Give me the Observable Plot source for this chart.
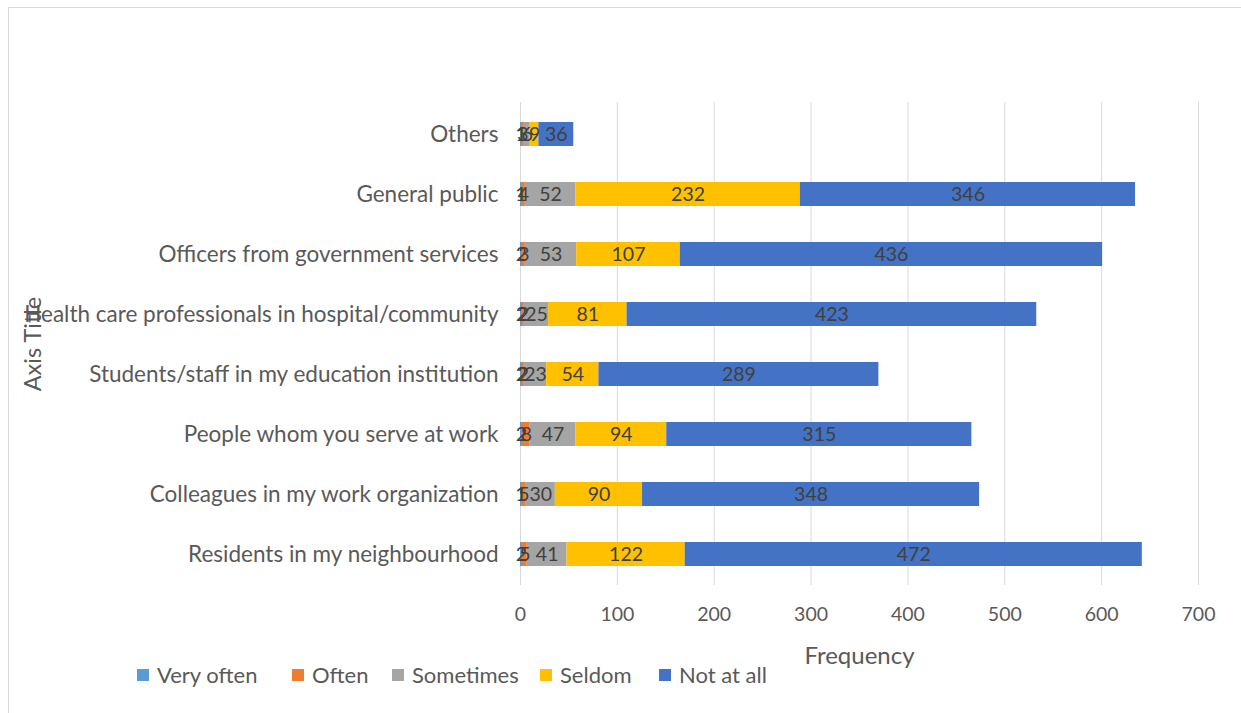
<!DOCTYPE html>
<html>
<head>
<meta charset="utf-8">
<script src="https://cdn.jsdelivr.net/npm/d3@7"></script>
<script src="https://cdn.jsdelivr.net/npm/@observablehq/plot@0.6"></script>
<style>
  html, body { margin: 0; padding: 0; background: #fff; }
  #wrap { position: relative; width: 1241px; height: 713px; overflow: hidden; font-family: Lato, "Open Sans", sans-serif; }
  #frame { position: absolute; left: 8px; top: 7px; width: 1240px; height: 710px; border: 1px solid #d9d9d9; box-sizing: border-box; }
  #chart { position: absolute; left: 0; top: 0; }
  .leg { position: absolute; top: 662px; font-size: 22px; color: #595959; white-space: nowrap; line-height: 26px; }
  .sw { position: absolute; width: 12px; height: 12px; top: 7px; }
  .ytitle { position: absolute; left: 32px; top: 344px; transform: translate(-50%, -50%) rotate(-90deg); font-size: 23.5px; color: #595959; white-space: nowrap; }
</style>
</head>
<body>
<div id="wrap">
  <div id="frame"></div>
  <div id="chart"></div>
  <div id="legend"></div>
</div>
<script>
const categories = [
  "Others",
  "General public",
  "Officers from government services",
  "Health care professionals in hospital/community",
  "Students/staff in my education institution",
  "People whom you serve at work",
  "Colleagues in my work organization",
  "Residents in my neighbourhood"
];
const series = ["Very often", "Often", "Sometimes", "Seldom", "Not at all"];
const colors = ["#5B9BD5", "#ED7D31", "#A5A5A5", "#FFC000", "#4472C4"];
const veryOften = [1, 1, 2, 2, 2, 2, 1, 2];
const often     = [3, 4, 3, 2, 2, 8, 5, 5];
const sometimes = [6, 52, 53, 25, 23, 47, 30, 41];
const seldom    = [9, 232, 107, 81, 54, 94, 90, 122];
const notAtAll  = [36, 346, 436, 423, 289, 315, 348, 472];
const xTicks = [0, 100, 200, 300, 400, 500, 600, 700];

const seriesValues = [veryOften, often, sometimes, seldom, notAtAll];
const data = [];
series.forEach((s, si) => {
  categories.forEach((c, ci) => {
    data.push({cat: c, series: s, value: seriesValues[si][ci]});
  });
});

const chart = Plot.plot({
  width: 1241,
  height: 713,
  marginLeft: 520,
  marginRight: 43,
  marginTop: 102,
  marginBottom: 128,
  style: {fontFamily: "Lato, 'Open Sans', sans-serif", fontSize: "19.5px", color: "#595959", background: "transparent"},
  x: {domain: [0, 700]},
  y: {domain: categories, paddingInner: 0, paddingOuter: 0},
  color: {domain: series, range: colors},
  marks: [
    Plot.gridX(xTicks, {stroke: "#d9d9d9", strokeOpacity: 1, strokeWidth: 1}),
    Plot.barX(data, Plot.stackX({x: "value", y: "cat", fill: "series", order: series, insetTop: 18, insetBottom: 18})),
    Plot.text(data, Plot.stackX({x: "value", y: "cat", z: "series", order: series, text: d => String(d.value), fill: "#404040", fontSize: 19.5})),
    Plot.axisX(xTicks, {tickSize: 0, tickPadding: 22, fill: "#595959", label: null}),
    Plot.text(["Frequency"], {frameAnchor: "bottom", dy: 78, fontSize: 24, fill: "#595959"}),
    Plot.axisY({tickSize: 0, tickPadding: 22, label: null, fill: "#595959", fontSize: 22.5})
  ]
});
document.getElementById("chart").appendChild(chart);

// y axis title
const yt = document.createElement("div");
yt.className = "ytitle";
yt.textContent = "Axis Title";
document.getElementById("wrap").appendChild(yt);

// legend
const legX = [137, 292, 392, 540, 659];
const legend = document.getElementById("legend");
series.forEach((s, i) => {
  const item = document.createElement("div");
  item.className = "leg";
  item.style.left = legX[i] + "px";
  item.innerHTML = `<span class="sw" style="left:0;background:${colors[i]}"></span><span style="margin-left:20px">${s}</span>`;
  legend.appendChild(item);
});
</script>
</body>
</html>
